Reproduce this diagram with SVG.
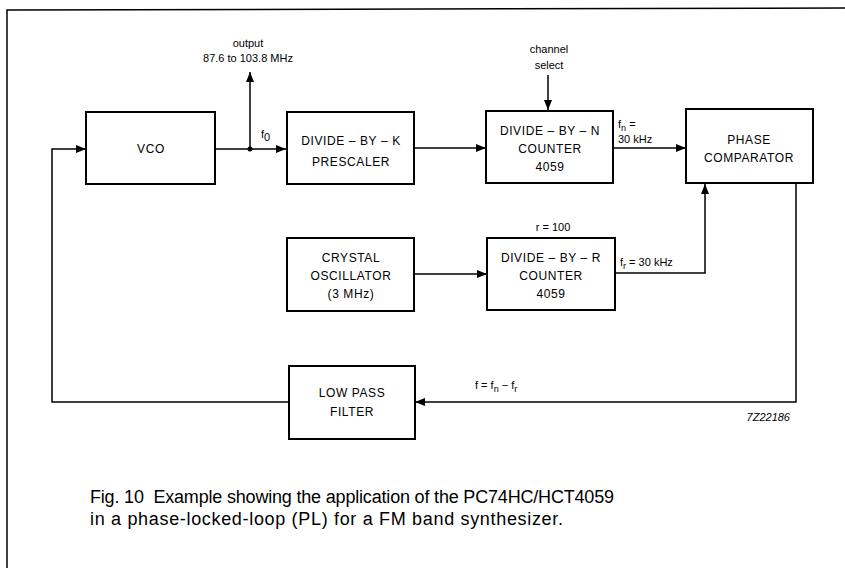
<svg xmlns="http://www.w3.org/2000/svg" width="845" height="568" viewBox="0 0 845 568">
<defs>
<style>
.box{fill:#fff;stroke:#000;stroke-width:2}
.ln{fill:none;stroke:#000;stroke-width:1.5}
.t{font-family:"Liberation Sans",Arial,sans-serif;font-size:12px;fill:#000;text-anchor:middle;letter-spacing:0.6px}
.s{font-family:"Liberation Sans",Arial,sans-serif;font-size:11px;fill:#000}
.cap{font-family:"Liberation Sans",Arial,sans-serif;font-size:18px;fill:#000}
</style>
<marker id="ah" viewBox="0 0 10 8" refX="10" refY="4" markerWidth="10" markerHeight="8" markerUnits="userSpaceOnUse" orient="auto">
<path d="M0,0 L10,4 L0,8 Z" fill="#000"/>
</marker>
</defs>
<rect width="845" height="568" fill="#fff"/>
<g id="frame">
<path class="ln" d="M7,568 L7,10 L845,8"/>
</g>
<g id="connectors">
<path class="ln" d="M215,149 L286,149" marker-end="url(#ah)"/>
<circle cx="250" cy="149" r="2.5" fill="#000"/>
<path class="ln" d="M250,149 L250,72" marker-end="url(#ah)"/>
<path class="ln" d="M415,148 L486,148" marker-end="url(#ah)"/>
<path class="ln" d="M548,75 L548,110" marker-end="url(#ah)"/>
<path class="ln" d="M613,148 L686,148" marker-end="url(#ah)"/>
<path class="ln" d="M415,274 L487,274" marker-end="url(#ah)"/>
<path class="ln" d="M616,273 L705,273 L705,184" marker-end="url(#ah)"/>
<path class="ln" d="M796,183 L796,402 L415,402" marker-end="url(#ah)"/>
<path class="ln" d="M289,402 L52,402 L52,149 L86,149" marker-end="url(#ah)"/>
</g>
<g id="vco">
<rect class="box" x="86" y="112" width="129" height="72"/>
<text class="t" x="151" y="153">VCO</text>
</g>
<g id="prescaler">
<rect class="box" x="287" y="112" width="127" height="72"/>
<text class="t" x="351" y="145">DIVIDE – BY – K</text>
<text class="t" x="351" y="166">PRESCALER</text>
</g>
<g id="counterN">
<rect class="box" x="486" y="111" width="127" height="72"/>
<text class="t" x="550" y="135">DIVIDE – BY – N</text>
<text class="t" x="550" y="153">COUNTER</text>
<text class="t" x="550" y="171">4059</text>
</g>
<g id="phase">
<rect class="box" x="686" y="109" width="127" height="74"/>
<text class="t" x="749" y="144">PHASE</text>
<text class="t" x="749" y="162">COMPARATOR</text>
</g>
<g id="crystal">
<rect class="box" x="287" y="238" width="127" height="73"/>
<text class="t" x="351" y="262">CRYSTAL</text>
<text class="t" x="351" y="280">OSCILLATOR</text>
<text class="t" x="351" y="298">(3 MHz)</text>
</g>
<g id="counterR">
<rect class="box" x="487" y="238" width="128" height="72"/>
<text class="t" x="551" y="262">DIVIDE – BY – R</text>
<text class="t" x="551" y="280">COUNTER</text>
<text class="t" x="551" y="298">4059</text>
</g>
<g id="lpf">
<rect class="box" x="289" y="366" width="126" height="73"/>
<text class="t" x="352" y="397">LOW PASS</text>
<text class="t" x="352" y="416">FILTER</text>
</g>
<g id="labels">
<text class="s" x="248" y="47" text-anchor="middle" font-size="10">output</text>
<text class="s" x="248" y="62" text-anchor="middle">87.6 to 103.8 MHz</text>
<text class="s" x="261" y="138" font-size="13">f<tspan dy="3" font-size="11">0</tspan></text>
<text class="s" x="549" y="53" text-anchor="middle" font-size="10">channel</text>
<text class="s" x="549" y="69" text-anchor="middle" font-size="10">select</text>
<text class="s" x="618" y="128">f<tspan dy="3" font-size="9">n</tspan><tspan dy="-3"> =</tspan></text>
<text class="s" x="618" y="143">30 kHz</text>
<text class="s" x="553" y="231" text-anchor="middle">r = 100</text>
<text class="s" x="620" y="266">f<tspan dy="3" font-size="9">r</tspan><tspan dy="-3"> = 30 kHz</tspan></text>
<text class="s" x="475" y="389">f = f<tspan dy="3" font-size="9">n</tspan><tspan dy="-3"> − f</tspan><tspan dy="3" font-size="9">r</tspan></text>
<text class="s" x="790" y="421" text-anchor="end" font-style="italic" font-size="10.5">7Z22186</text>
<text class="cap" x="90" y="503" textLength="524" lengthAdjust="spacing">Fig. 10&#160; Example showing the application of the PC74HC/HCT4059</text>
<text class="cap" x="90" y="525" textLength="473" lengthAdjust="spacing">in a phase-locked-loop (PL) for a FM band synthesizer.</text>
</g>
</svg>
